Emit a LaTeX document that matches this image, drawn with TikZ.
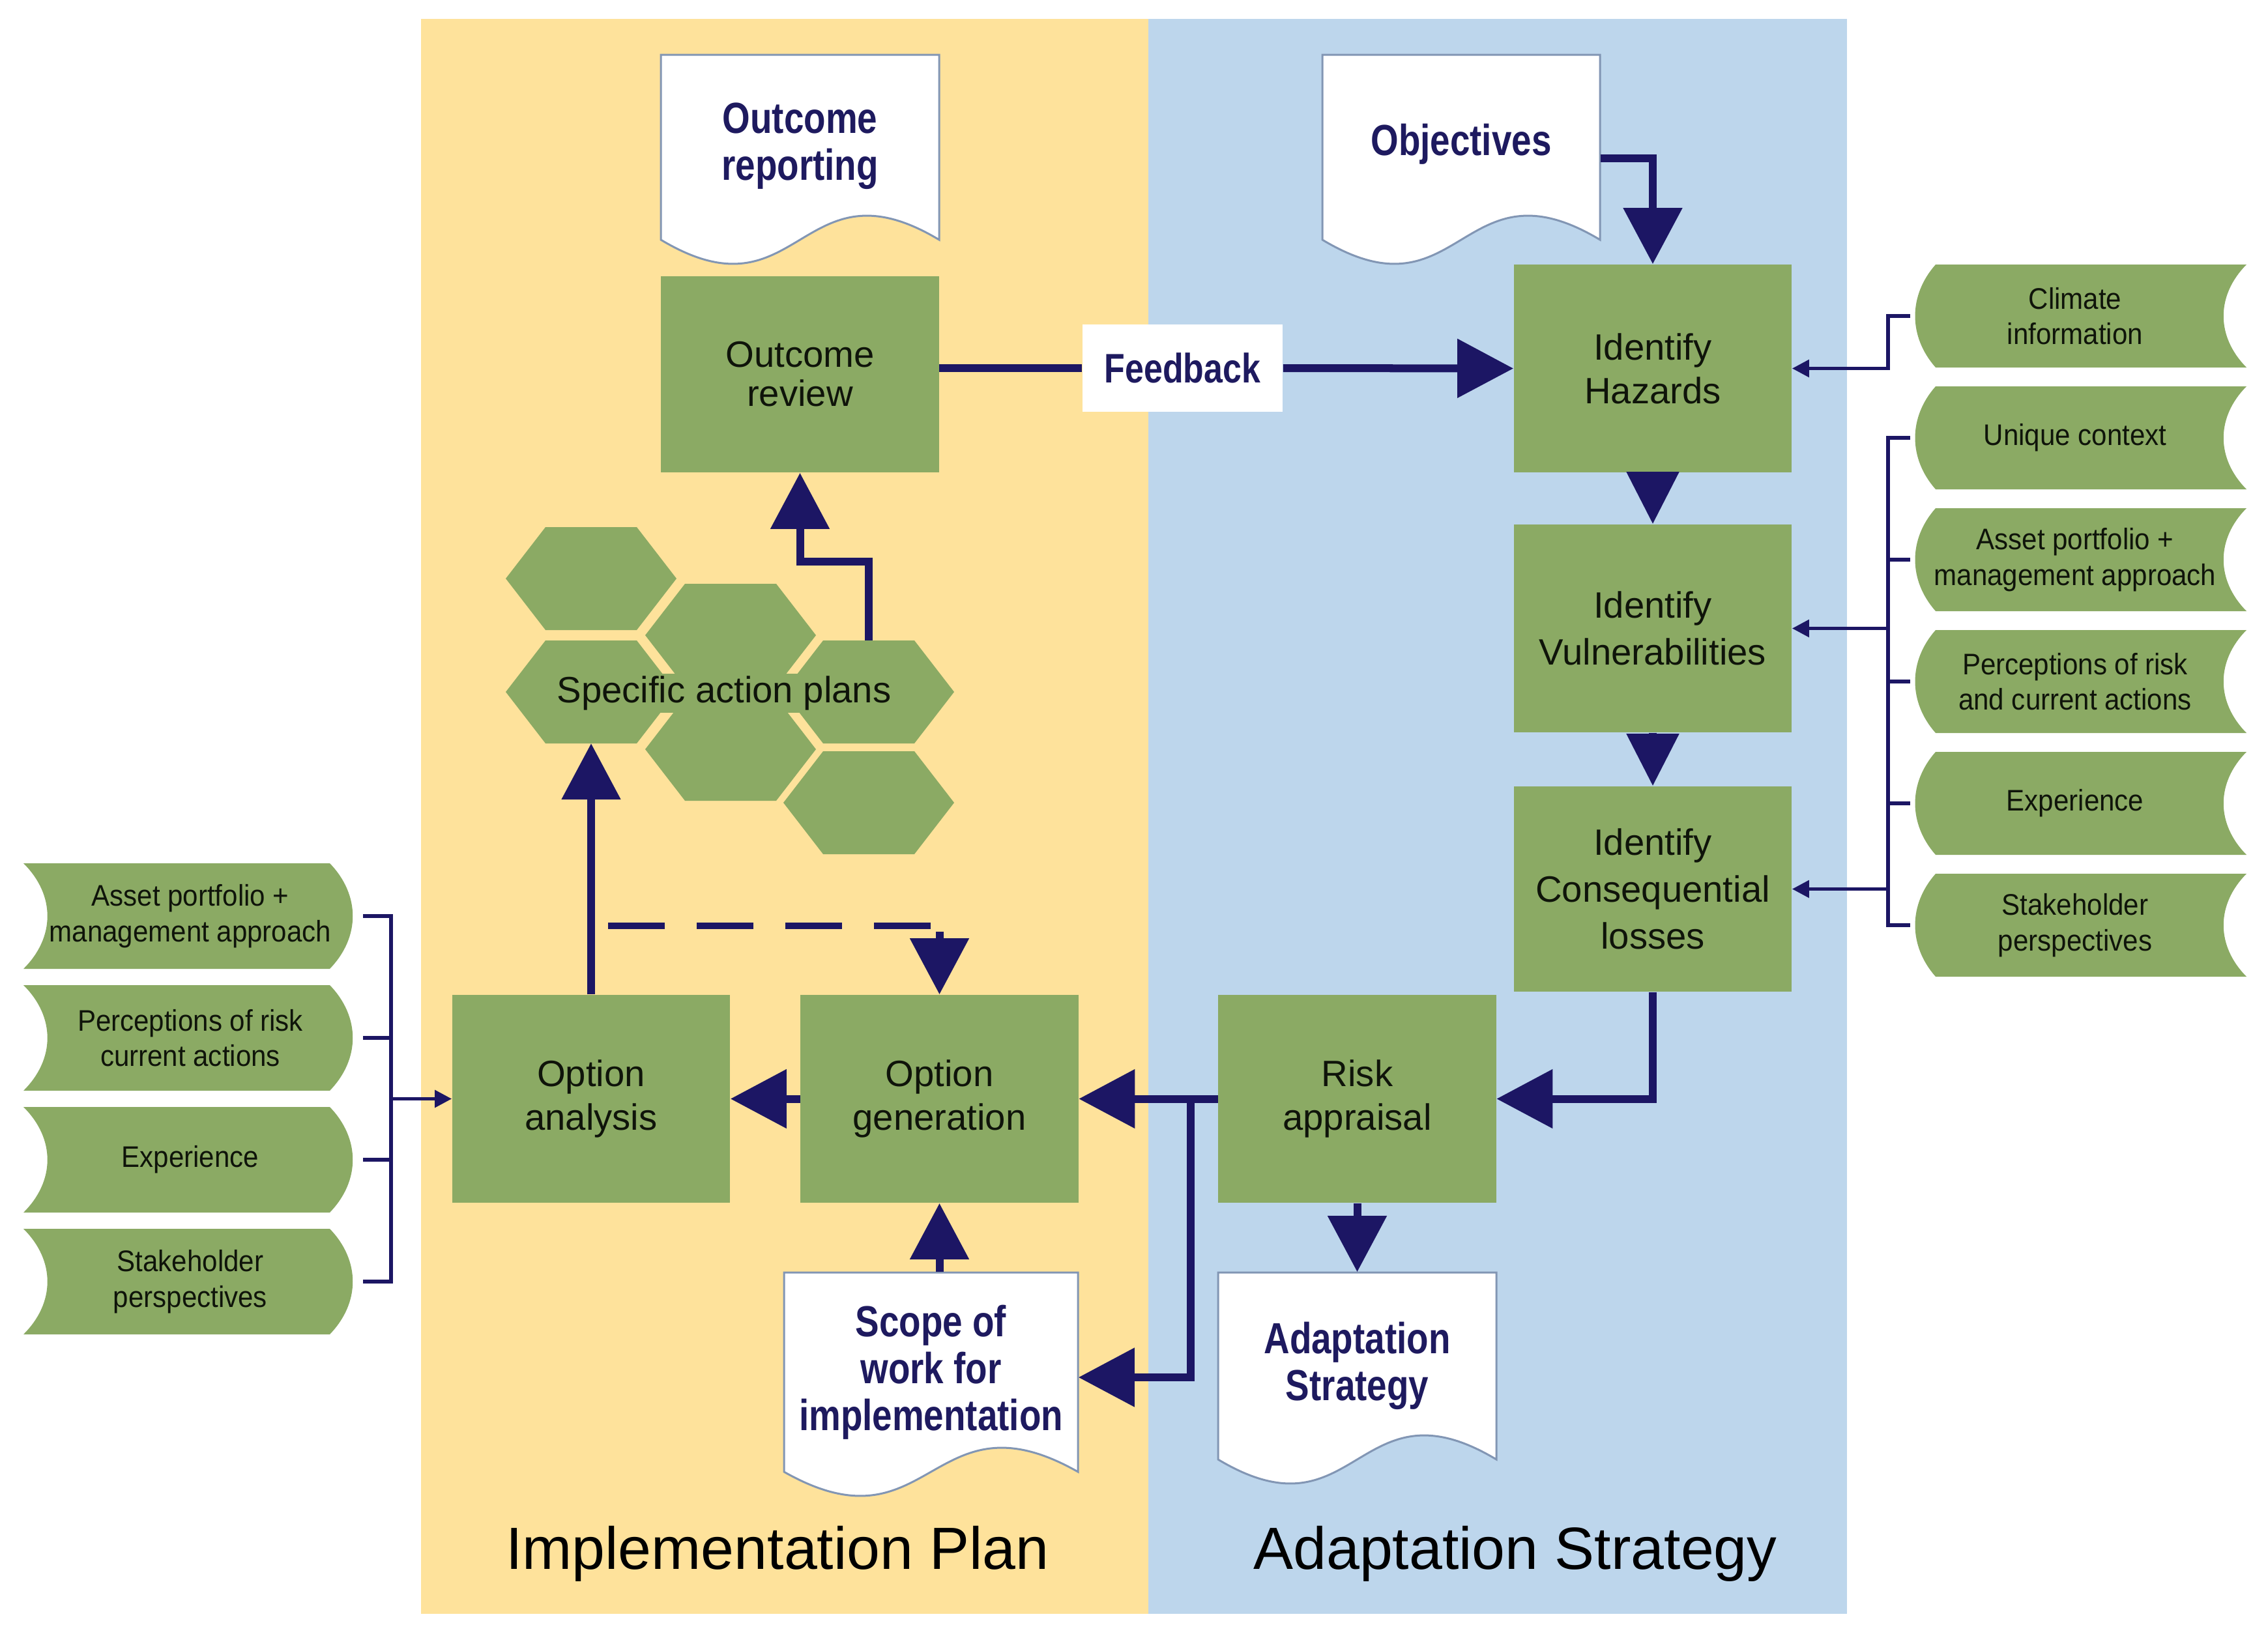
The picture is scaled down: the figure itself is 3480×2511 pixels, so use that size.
\documentclass[tikz,border=0pt]{standalone}
\usepackage{fontspec}
\setmainfont{Liberation Sans}
\newfontfamily\docfont[FakeStretch=0.82]{Liberation Sans}
\newfontfamily\tabfont[FakeStretch=0.92]{Liberation Sans}
\usetikzlibrary{arrows.meta,calc}
\definecolor{yel}{RGB}{254,226,155}
\definecolor{blu}{RGB}{189,214,236}
\definecolor{gr}{RGB}{139,170,100}
\definecolor{nav}{RGB}{28,22,100}
\definecolor{navtext}{RGB}{30,26,95}
\definecolor{docline}{RGB}{130,150,180}
\definecolor{txt}{RGB}{15,20,10}
% document shape: x1, top, x2, bottom-of-sides
\newcommand\docshape[4]{%
  \draw[fill=white, draw=docline, line width=0.03cm]
    (#1,#2) -- (#3,#2) -- (#3,#4)
    .. controls ({(#1+#3)/2},{#4-128}) and ({(#1+#3)/2},{#4+128}) .. (#1,#4) -- cycle;}
% right input tab: top, bottom
\newcommand\rtab[2]{%
  \fill[gr] (2970,#1) -- (3447,#1)
    .. controls (3400,{#1+0.3*(#2-#1)}) and (3400,{#2-0.3*(#2-#1)}) .. (3447,#2)
    -- (2970,#2)
    .. controls (2928,{#2-0.3*(#2-#1)}) and (2928,{#1+0.3*(#2-#1)}) .. (2970,#1) -- cycle;}
% left input tab: top, bottom
\newcommand\ltab[2]{%
  \fill[gr] (36,#1) -- (506,#1)
    .. controls (553,{#1+0.3*(#2-#1)}) and (553,{#2-0.3*(#2-#1)}) .. (506,#2)
    -- (36,#2)
    .. controls (85,{#2-0.3*(#2-#1)}) and (85,{#1+0.3*(#2-#1)}) .. (36,#1) -- cycle;}
% hexagon: centre x, centre y
\newcommand\hexa[2]{%
  \fill[gr] ({#1-131},{#2}) -- ({#1-70},{#2-79}) -- ({#1+70},{#2-79}) -- ({#1+131},{#2})
    -- ({#1+70},{#2+79}) -- ({#1-70},{#2+79}) -- cycle;}
\tikzset{
  gbox/.style={rectangle, fill=gr, inner sep=0pt, minimum width=4.26cm, minimum height=3.19cm,
    align=center, text=txt, font=\fontsize{16}{19}\selectfont},
  docnode/.style={rectangle, inner sep=0pt, align=center, text=navtext,
    font=\docfont\bfseries\fontsize{19}{20.5}\selectfont},
  rtabnode/.style={rectangle, inner sep=0pt, minimum width=5.09cm, minimum height=1.58cm,
    align=center, text=txt, font=\tabfont\fontsize{13}{15.5}\selectfont},
  ltabnode/.style={rtabnode, minimum width=5.05cm, minimum height=1.62cm},
  flow/.style={draw=nav, line width=0.12cm, -{Triangle[length=8.6mm,width=8.8mm]}},
  flowshort/.style={draw=nav, line width=0.12cm, -{Triangle[length=8mm,width=7.8mm]}},
  flowplain/.style={draw=nav, line width=0.12cm},
  thinline/.style={draw=nav, line width=0.055cm},
  thinarrow/.style={thinline, -{Triangle[length=2.6mm,width=2.6mm]}},
  dashflow/.style={draw=nav, line width=0.1cm, dash pattern=on 0.87cm off 0.49cm},
  panellabel/.style={font=\fontsize{26}{30}\selectfont, anchor=base, inner sep=0pt, text=black},
}
\begin{document}
\begin{tikzpicture}[x=0.01cm, y=-0.01cm, line join=miter]
\useasboundingbox (0,0) rectangle (3480,2511);
\fill[white] (0,0) rectangle (3480,2511);
% panels
\fill[yel] (646,29) rectangle (1762,2477);
\fill[blu] (1762,29) rectangle (2834,2477);

% documents
\docshape{1014}{84}{1441}{368}
\node[docnode, minimum width=4.27cm, minimum height=2.84cm] (orep) at (1227.5,224) {Outcome\\reporting};
\docshape{2029}{84}{2455}{368}
\node[docnode, minimum width=4.26cm, minimum height=2.84cm] (obj) at (2242,226) {\raisebox{0.24cm}{Objectives}};
\docshape{1203}{1953}{1654}{2259}
\node[docnode, minimum width=4.51cm, minimum height=3.06cm] (scope) at (1428.5,2106) {Scope of\\work for\\implementation};
\docshape{1869}{1953}{2296}{2240}
\node[docnode, minimum width=4.27cm, minimum height=2.87cm] (adoc) at (2082.5,2096.5) {Adaptation\\Strategy};

% green process boxes
\node[gbox, minimum height=3.01cm, font=\fontsize{16}{17}\selectfont] (orev) at (1227.5,574.5) {Outcome\\review};
\node[gbox] (haz) at (2536,565.5) {Identify\\Hazards};
\node[gbox, font=\fontsize{16}{20.5}\selectfont] (vul) at (2536,964.5) {Identify\\Vulnerabilities};
\node[gbox, minimum height=3.15cm, font=\fontsize{16}{20.5}\selectfont] (con) at (2536,1364.5) {Identify\\Consequential\\losses};
\node[gbox] (risk) at (2082.5,1686.5) {Risk\\appraisal};
\node[gbox] (ogen) at (1441.5,1686.5) {Option\\generation};
\node[gbox] (oana) at (907,1686.5) {Option\\analysis};

% feedback label
\node[rectangle, fill=white, minimum width=3.07cm, minimum height=1.34cm, inner sep=0pt,
  text=navtext, font=\docfont\bfseries\fontsize{18}{20}\selectfont] (fb) at (1814.5,565) {Feedback};

% hexagons (specific action plans)
\hexa{907}{888}
\hexa{907}{1062}
\hexa{1121}{975}
\hexa{1121}{1150}
\hexa{1333}{1062}
\hexa{1333}{1232}
\node[fill=gr, inner xsep=0pt, inner ysep=0.04cm, text=txt, font=\fontsize{16}{19}\selectfont] (sap) at (1111,1064) {Specific action plans};
\coordinate (h3bot) at (907,1141);
\coordinate (h5top) at (1333,983);
\coordinate (elbow) at (1333,862);

% right input tabs
\rtab{406}{564}
\rtab{593}{751}
\rtab{780}{938}
\rtab{967}{1125}
\rtab{1154}{1312}
\rtab{1341}{1499}
\node[rtabnode] (rt1) at (3184,485) {Climate\\information};
\node[rtabnode] (rt2) at (3184,672) {Unique context};
\node[rtabnode] (rt3) at (3184,859) {Asset portfolio +\\management approach};
\node[rtabnode] (rt4) at (3184,1046) {Perceptions of risk\\and current actions};
\node[rtabnode] (rt5) at (3184,1233) {Experience};
\node[rtabnode] (rt6) at (3184,1420) {Stakeholder\\perspectives};

% left input tabs
\ltab{1325}{1487}
\ltab{1512}{1674}
\ltab{1699}{1861}
\ltab{1886}{2048}
\node[ltabnode] (lt1) at (292,1406) {Asset portfolio +\\management approach};
\node[ltabnode] (lt2) at (292,1593) {Perceptions of risk\\current actions};
\node[ltabnode] (lt3) at (292,1780) {Experience};
\node[ltabnode] (lt4) at (292,1967) {Stakeholder\\perspectives};

% panel labels
\node[panellabel] (lblimp) at (1193,2408) {Implementation Plan};
\node[panellabel] (lbladapt) at (2325,2408) {Adaptation Strategy};

% main flow connectors
\draw[flowplain] (orev.east |- fb.west) -- (fb.west);
\draw[flow] (fb.east) -- (haz.west);
\draw[flow] ([yshift=-0.17cm]obj.east) -| (haz.north);
\draw[flowshort] (haz.south) -- (vul.north);
\draw[flowshort] (vul.south) -- (con.north);
\draw[flow] (con.south) |- (risk.east);
\draw[flow] (risk.west) -- (ogen.east);
\coordinate (br) at (1827,1686.5);
\draw[flow] (br) |- ([yshift=-0.08cm]scope.east);
\draw[flow] (risk.south) -- (adoc.north);
\draw[flow] (scope.north -| ogen.south) -- (ogen.south);
\draw[flow] (ogen.west) -- (oana.east);
\draw[flow] (oana.north) -- (h3bot);
\draw[flow] (h5top) -- (elbow) -| (orev.south);
% dashed feedback to option generation
\coordinate (dstart) at (933,1421);
\coordinate (dend) at (1430,1421);
\draw[dashflow] (dstart) -- (dend);
\draw[flow] ($(ogen.north |- dend)+(0,9)$) -- (ogen.north);

% right side inputs
\coordinate (rbr) at (2897,0);
\draw[thinarrow] ([xshift=0.02cm]rt1.west) -| (rbr |- haz.east) -- (haz.east);
\draw[thinline] ([xshift=0.02cm]rt2.west) -| (rbr |- rt6.west) -- ([xshift=0.02cm]rt6.west);
\draw[thinline] ([xshift=0.02cm]rt3.west) -- (rbr |- rt3.west);
\draw[thinline] ([xshift=0.02cm]rt4.west) -- (rbr |- rt4.west);
\draw[thinline] ([xshift=0.02cm]rt5.west) -- (rbr |- rt5.west);
\draw[thinarrow] (rbr |- vul.east) -- (vul.east);
\draw[thinarrow] (rbr |- con.east) -- (con.east);

% left side inputs
\coordinate (lbr) at (600,0);
\draw[thinline] ([xshift=0.12cm]lt1.east) -| (lbr |- lt4.east) -- ([xshift=0.12cm]lt4.east);
\draw[thinline] ([xshift=0.12cm]lt2.east) -- (lbr |- lt2.east);
\draw[thinline] ([xshift=0.12cm]lt3.east) -- (lbr |- lt3.east);
\draw[thinarrow] (lbr |- oana.west) -- (oana.west);
\end{tikzpicture}
\end{document}
